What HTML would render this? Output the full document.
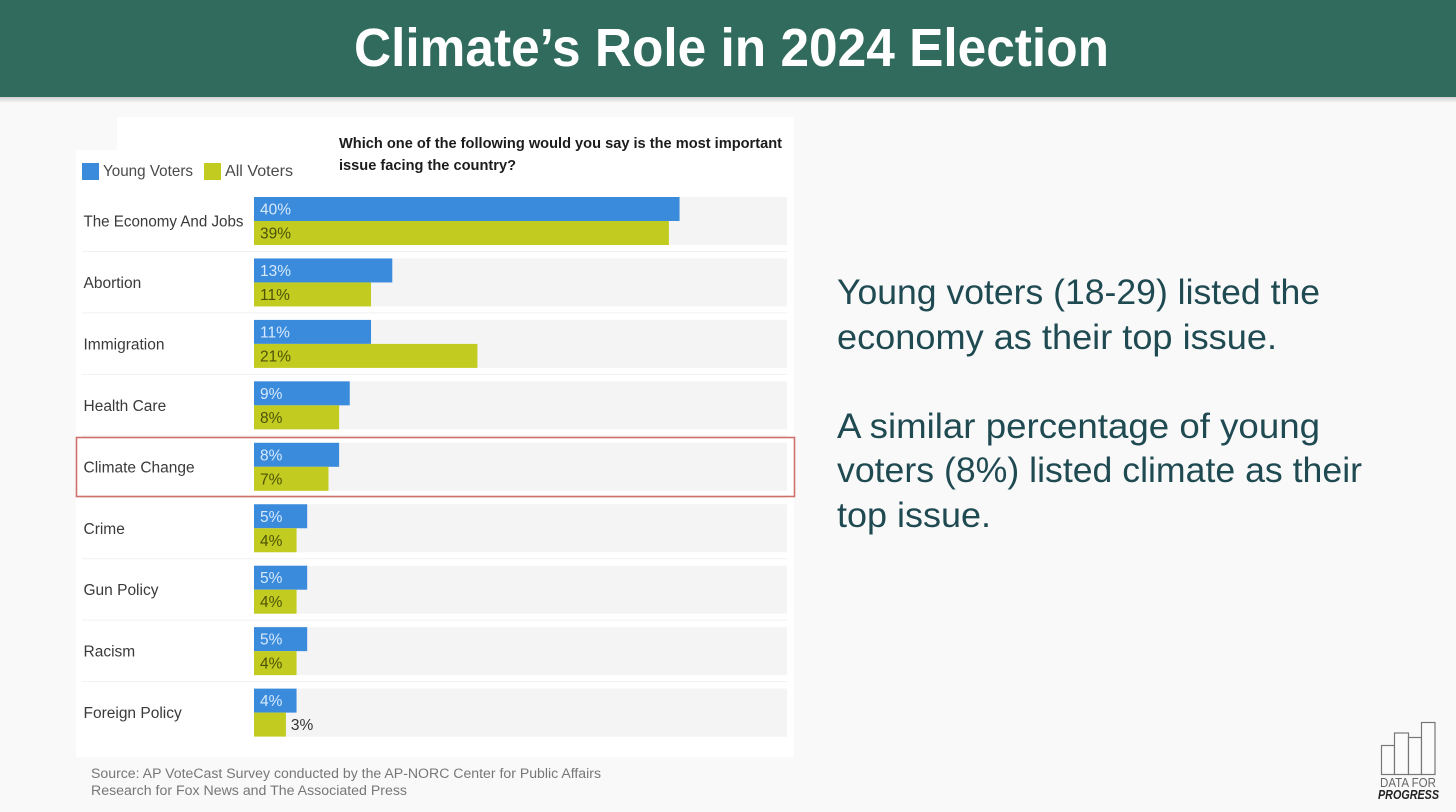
<!DOCTYPE html>
<html lang="en">
<head>
<meta charset="utf-8">
<title>Climate's Role in 2024 Election</title>
<style>
html,body{margin:0;padding:0;width:1456px;height:812px;overflow:hidden;background:#f9f9f9}
svg{display:block;font-family:"Liberation Sans",sans-serif}
</style>
</head>
<body>
<svg id="slide" width="1456" height="812" viewBox="0 0 1456 812" xmlns="http://www.w3.org/2000/svg">
  <defs>
    <linearGradient id="shadow" x1="0" y1="0" x2="0" y2="1">
      <stop offset="0" stop-color="#000" stop-opacity="0.16"/>
      <stop offset="1" stop-color="#000" stop-opacity="0"/>
    </linearGradient>
  </defs>
  <rect width="1456" height="812" fill="#f9f9f9"/>
  <rect x="0" y="97" width="1456" height="6" fill="url(#shadow)"/>
  <rect width="1456" height="97" fill="#316b5e"/>
  <text x="354" y="66" font-size="54" font-weight="700" fill="#fff" textLength="755" lengthAdjust="spacingAndGlyphs">Climate’s Role in 2024 Election</text>

  <rect x="117" y="117" width="677" height="40" fill="#fff"/>
  <rect x="76" y="150" width="718" height="607" fill="#fff"/>

  <text x="339" y="148" font-size="15" font-weight="700" fill="#1c1c1c" textLength="443" lengthAdjust="spacingAndGlyphs">Which one of the following would you say is the most important</text>
  <text x="339" y="170" font-size="15" font-weight="700" fill="#1c1c1c" textLength="177" lengthAdjust="spacingAndGlyphs">issue facing the country?</text>

  <g>
    <rect x="82" y="163" width="17" height="17" fill="#3b8bdc"/>
    <text x="103" y="176" font-size="16" fill="#4a4a4a" textLength="90" lengthAdjust="spacingAndGlyphs">Young Voters</text>
    <rect x="204" y="163" width="17" height="17" fill="#c2cc20"/>
    <text x="225" y="176" font-size="16" fill="#4a4a4a" textLength="68" lengthAdjust="spacingAndGlyphs">All Voters</text>
  </g>

  <g id="chart"></g>

  <rect x="76.5" y="437.5" width="718" height="59" fill="none" stroke="#d0706a" stroke-width="1.6"/>

  <text x="91" y="778" font-size="13.5" fill="#777" textLength="510" lengthAdjust="spacingAndGlyphs">Source: AP VoteCast Survey conducted by the AP-NORC Center for Public Affairs</text>
  <text x="91" y="795" font-size="13.5" fill="#777" textLength="316" lengthAdjust="spacingAndGlyphs">Research for Fox News and The Associated Press</text>

  <g font-size="35" fill="#1f4a52">
    <text x="837" y="304" textLength="483" lengthAdjust="spacingAndGlyphs">Young voters (18-29) listed the</text>
    <text x="837" y="349" textLength="440" lengthAdjust="spacingAndGlyphs">economy as their top issue.</text>
    <text x="837" y="438" textLength="483" lengthAdjust="spacingAndGlyphs">A similar percentage of young</text>
    <text x="837" y="482" textLength="525" lengthAdjust="spacingAndGlyphs">voters (8%) listed climate as their</text>
    <text x="837" y="527" textLength="154" lengthAdjust="spacingAndGlyphs">top issue.</text>
  </g>

  <g>
    <g fill="#fbfbfb" stroke="#777" stroke-width="1.2">
      <rect x="1381.5" y="745.5" width="13" height="29"/>
      <rect x="1394.5" y="733" width="14" height="41.5"/>
      <rect x="1408.5" y="737.5" width="13" height="37"/>
      <rect x="1421.5" y="722.5" width="13.5" height="52"/>
    </g>
    <text x="1380" y="787" font-size="12.5" fill="#666" textLength="56" lengthAdjust="spacingAndGlyphs">DATA FOR</text>
    <text x="1378" y="799" font-size="12.5" font-weight="700" font-style="italic" fill="#222" textLength="61" lengthAdjust="spacingAndGlyphs">PROGRESS</text>
  </g>
</svg>
<script>
var categories = ["The Economy And Jobs", "Abortion", "Immigration", "Health Care", "Climate Change", "Crime", "Gun Policy", "Racism", "Foreign Policy"];
var youngVoters = [40, 13, 11, 9, 8, 5, 5, 5, 4];
var allVoters = [39, 11, 21, 8, 7, 4, 4, 4, 3];
var axisMax = 50;

var NS = "http://www.w3.org/2000/svg";
var chart = document.getElementById("chart");
var plotLeft = 254, plotRight = 787, firstTop = 197, rowStep = 61.45, barHeight = 24, labelMaxWidth = 160;

function xScale(v) { return (v / axisMax) * (plotRight - plotLeft) * 0.998; }
function rowTop(i) { return firstTop + i * rowStep; }
function slug(s) { return s.toLowerCase().replace(/\s+/g, "-"); }
function make(tag, attrs, text) {
  var el = document.createElementNS(NS, tag);
  for (var k in attrs) el.setAttribute(k, attrs[k]);
  if (text !== undefined) el.textContent = text;
  chart.appendChild(el);
  return el;
}
function drawBar(value, y, color, name, labelColor) {
  var w = xScale(value);
  var bar = make("rect", { x: plotLeft, y: y, width: w, height: barHeight, fill: color });
  
  
  var inside = w > 40;
  var label = make("text", {
    x: inside ? plotLeft + 6 : plotLeft + w + 5,
    y: y + 17.5,
    "font-size": 15.5,
    fill: inside ? labelColor : "#333"
  }, value + "%");
  
  
}
categories.forEach(function (cat, i) {
  var top = rowTop(i), key = slug(cat);
  var track = make("rect", { x: plotLeft, y: top, width: plotRight - plotLeft, height: barHeight * 2, fill: "#f4f4f4" });
  
  
  if (i > 0) {
    var sep = make("line", { x1: 82, x2: 787, y1: top - 7, y2: top - 7, stroke: "#f1f1f1", "stroke-width": 1 });
    
    
  }
  var cl = make("text", { x: 83.5, y: top + 29.5, "font-size": 15.5, fill: "#3a3a3a" }, cat);
  
  
  if (cl.getComputedTextLength() > labelMaxWidth) {
    cl.setAttribute("textLength", labelMaxWidth);
    cl.setAttribute("lengthAdjust", "spacingAndGlyphs");
  }
  drawBar(youngVoters[i], top, "#3b8bdc", "young-voters-" + key, "#d6e9fb");
  drawBar(allVoters[i], top + barHeight, "#c2cc20", "all-voters-" + key, "#4d5208");
});
</script>
</body>
</html>
